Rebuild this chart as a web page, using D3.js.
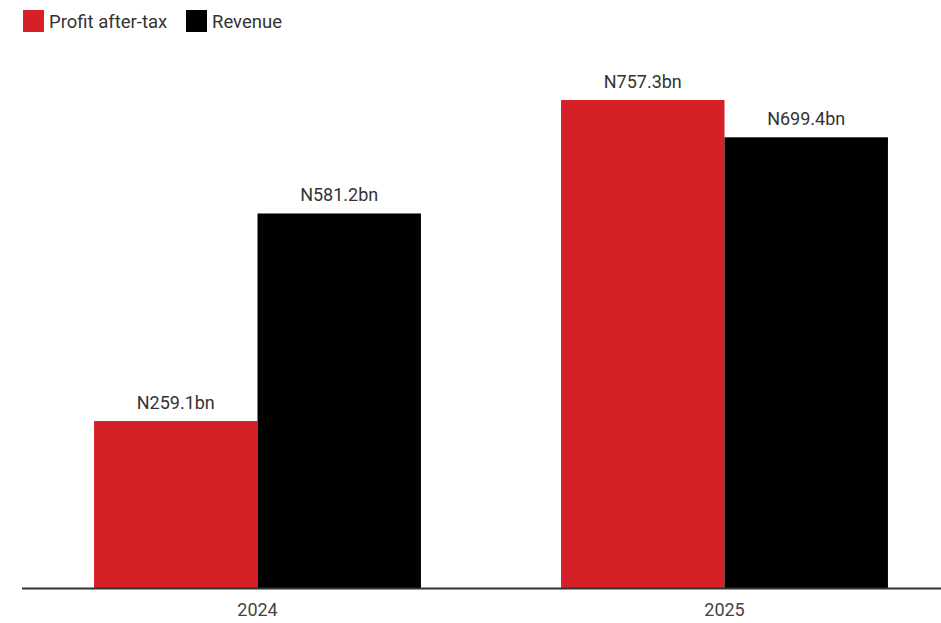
<!DOCTYPE html>
<html>
<head>
<meta charset="utf-8">
<script src="https://cdn.jsdelivr.net/npm/d3@7"></script>
<style>
  body { margin: 0; background: #fff; }
  svg text { font-family: Roboto, "Open Sans", sans-serif; }
</style>
</head>
<body>
<svg id="chart" width="941" height="623"></svg>
<script>
const years = ["2024", "2025"];
const seriesNames = ["Profit after-tax", "Revenue"];
const profit = [259.1, 757.3];
const revenue = [581.2, 699.4];
const colors = ["#d52027", "#000000"];

const svg = d3.select("#chart"),
      width = +svg.attr("width");

const baseY = 588, topY = 100;

const x = d3.scaleBand()
  .domain(years)
  .range([24, 958])
  .paddingInner(0.3)
  .paddingOuter(0.15);

const xs = d3.scaleBand()
  .domain(seriesNames)
  .range([0, x.bandwidth()]);

const y = d3.scaleLinear()
  .domain([0, d3.max(profit.concat(revenue))])
  .range([baseY, topY]);

const rows = years.map((yr, i) => ({ year: yr, values: [profit[i], revenue[i]] }));

const groups = svg.append("g").selectAll("g")
  .data(rows)
  .join("g")
  .attr("transform", d => `translate(${x(d.year)},0)`);

groups.selectAll("rect")
  .data(d => d.values.map((v, j) => ({ name: seriesNames[j], value: v, j })))
  .join("rect")
  .attr("x", d => xs(d.name))
  .attr("y", d => y(d.value))
  .attr("width", xs.bandwidth())
  .attr("height", d => baseY - y(d.value))
  .attr("fill", d => colors[d.j]);

groups.selectAll("text")
  .data(d => d.values.map((v, j) => ({ name: seriesNames[j], value: v })))
  .join("text")
  .attr("x", d => xs(d.name) + xs.bandwidth() / 2)
  .attr("y", d => y(d.value) - 12)
  .attr("text-anchor", "middle")
  .attr("font-size", "18px")
  .attr("fill", "#333")
  .text(d => `N${d.value.toFixed(1)}bn`);

// axis
const axis = svg.append("g")
  .attr("transform", `translate(0,${baseY})`)
  .call(d3.axisBottom(x).tickSize(0).tickPadding(15));
axis.select(".domain").remove();
axis.selectAll("text")
  .attr("font-size", "18px")
  .attr("fill", "#444")
  .style("font-family", "Roboto, sans-serif");

svg.append("line")
  .attr("x1", 22).attr("x2", width)
  .attr("y1", baseY + 0.5).attr("y2", baseY + 0.5)
  .attr("stroke", "#333")
  .attr("stroke-width", 2);

// legend
const legendPos = [23, 186];
const legend = svg.append("g");
const items = legend.selectAll("g")
  .data(seriesNames)
  .join("g")
  .attr("transform", (d, i) => `translate(${legendPos[i]},10)`);

items.append("rect")
  .attr("width", 21)
  .attr("height", 22)
  .attr("fill", (d, i) => colors[i]);

items.append("text")
  .attr("x", 26)
  .attr("y", 18)
  .attr("font-size", "18.5px")
  .attr("fill", "#333")
  .text(d => d);
</script>
</body>
</html>
